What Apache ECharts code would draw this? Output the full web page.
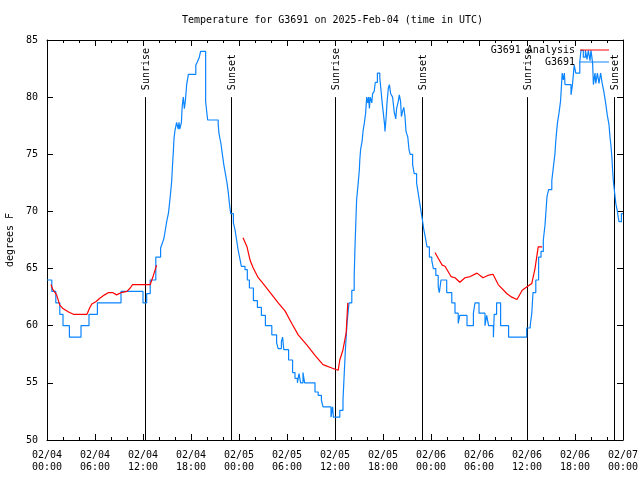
<!DOCTYPE html>
<html><head><meta charset="utf-8">
<script src="https://cdn.jsdelivr.net/npm/echarts@6/dist/echarts.min.js"></script>
<style>html,body{margin:0;padding:0;background:#fff}#c{width:640px;height:480px}</style>
</head><body><div id="c"></div>
<script>
// ---- data (x in hours since 02/04 00:00 UTC, y in degrees F) ----
const chartTitle = 'Temperature for G3691 on 2025-Feb-04 (time in UTC)';
const xTickHours = [0, 6, 12, 18, 24, 30, 36, 42, 48, 54, 60, 66, 72];
const yTicks = [50, 55, 60, 65, 70, 75, 80, 85];

// Observed station values (change points, step)
const blueDay1 = [[0,64],[0.6,63],[1.1,62],[1.6,61],[2.0,60],[2.8,59],[4.25,60],[5.25,61],[6.3,62],[9.25,63],[12.0,62],[12.46,62.8],[12.9,64],[13.6,66],[14.2,66.8],[14.4,67.2],[14.6,67.6],[14.75,68.2],[14.96,69.1],[15.17,69.8],[15.3,70.6],[15.46,71.7],[15.58,72.6],[15.67,73.8],[15.79,75.2],[15.875,76.4],[16.0,77.1],[16.2,77.8],[16.4,77.2],[16.5,77.8],[16.6,77.2],[16.8,77.8],[16.9,79.2],[17.04,80],[17.17,79],[17.3,79.7],[17.46,81.1],[17.67,82],[18.6,82.8],[18.8,83.1],[19.04,83.5],[19.2,84],[19.83,79.6],[20.08,78],[21.4,77.6],[21.5,76.8],[21.75,75.9],[21.9,75.1],[22.1,74.1],[22.3,73.3],[22.5,72.5],[22.67,71.6],[22.8,70.7],[22.96,69.8],[23.3,69],[23.5,68.4],[23.7,67.5],[23.9,66.6],[24.1,65.9],[24.3,65.2],[24.75,64.9],[25.04,64],[25.3,63.3]];
const blueDay2 = [[25.8,62.2],[26.3,61.6],[26.8,60.9],[27.3,60],[28.1,59.2],[28.7,58.5],[28.9,58],[29.3,58.6],[29.45,59],[29.6,57.9],[30.2,57],[30.7,55.9],[31.0,55.4],[31.3,55],[31.5,55.8],[31.7,55],[32.0,55.9],[32.2,55],[33.5,54.2],[33.9,53.9],[34.3,53.5],[34.5,52.9],[35.5,52],[35.7,52.9],[35.8,52],[36.6,52.6],[37.0,53.5],[37.1,55],[37.3,57.9],[37.5,60.2],[37.75,62],[38.1,63.1],[38.4,64.3],[38.5,66.9],[38.7,71],[38.9,72.5],[39.04,73.6],[39.1,74.5],[39.2,75.4],[39.4,76.2],[39.5,77],[39.66,77.7],[39.83,78.6],[39.96,80],[40.1,79.5],[40.2,80],[40.3,79],[40.4,80],[40.6,79.5],[40.7,80.3],[40.9,80.5],[41.04,81.3],[41.3,82.1],[41.6,81.7],[41.75,80.6],[41.9,79.5],[42.04,78.6],[42.2,77.6],[42.25,77],[42.4,78.3],[42.5,79.5],[42.67,80.8],[42.8,81.1],[42.96,80.3],[43.2,80],[43.4,78.7],[43.6,78.1],[43.7,79],[43.9,79.6],[44.04,80.2],[44.2,79.6],[44.3,78.3],[44.46,78.8],[44.6,79.1],[44.75,78.3],[44.875,77],[45.1,76.5],[45.25,75.4],[45.4,75],[45.7,74.1],[45.9,73.3],[46.2,72.5],[46.4,71.6],[46.6,70.7],[46.8,69.8],[46.96,69.1],[47.1,68.4],[47.3,67.7],[47.5,66.9],[47.8,66],[48.1,65.7],[48.3,65],[48.6,64.4],[48.9,63.4],[49.04,62.9],[49.25,64],[49.96,62.9]];
const blueDay3 = [[50.6,62],[51.0,61.1],[51.4,60.2],[51.6,60.9],[52.5,60],[53.3,61.1],[53.5,62],[54.0,61.1],[54.75,60],[54.96,60.9],[55.2,60],[55.8,59],[55.9,61],[56.2,62],[56.7,60],[57.7,59],[59.96,59.8],[60.4,60],[60.6,61.1],[60.75,62.9],[61.1,64],[61.45,66],[61.75,66.5],[62.04,67.5],[62.25,68.8],[62.5,71.3],[62.7,71.9],[63.1,72.7],[63.3,73.9],[63.5,75.1],[63.6,76.2],[63.8,77.7],[64.0,78.6],[64.2,79.7],[64.4,82.1],[64.54,81.5],[64.67,82.1],[64.75,81.1],[65.5,80.2],[65.67,81],[65.9,82.8],[66.1,82.1],[66.6,83.1],[66.75,84.1],[67.04,83.5],[67.3,84.1],[67.5,83.3],[67.67,84.1],[67.875,83.2],[68.0,84.1],[68.2,83],[68.3,81.1],[68.5,82.1],[68.6,81.2],[68.8,82.1],[69.0,81.2],[69.2,82.1],[69.4,81.2],[69.6,80.5],[69.83,79.5],[70.04,78.4],[70.25,77.6],[70.375,76.5],[70.5,75.7],[70.625,74.6],[70.7,73.6],[70.8,72.6],[70.96,71.6],[71.1,70.7],[71.3,70],[71.4,69.5],[71.5,69.1],[71.8,69.8],[72,69.8]];

// Analysis values (three separate runs)
const redRun1 = [[0.5,63.6],[0.7,63.2],[1.2,62.7],[1.6,61.8],[2.0,61.5],[2.7,61.2],[3.3,61.0],[5.0,61.0],[5.3,61.5],[5.6,61.9],[6.1,62.1],[6.6,62.4],[7.2,62.7],[7.7,62.9],[8.2,62.9],[8.7,62.7],[9.3,62.9],[10.0,63.0],[10.4,63.3],[10.7,63.6],[12.9,63.6],[13.3,64.4],[13.7,65.3]];
const redRun2 = [[24.5,67.7],[25.0,66.9],[25.4,65.7],[25.75,65.1],[26.4,64.2],[26.9,63.8],[27.9,62.9],[28.9,62.0],[29.75,61.3],[30.6,60.2],[31.4,59.2],[32.5,58.3],[33.5,57.4],[34.5,56.6],[35.6,56.3],[36.4,56.1],[36.6,57.0],[37.0,57.9],[37.4,59.4],[37.6,62.0]];
const redRun3 = [[48.5,66.4],[48.9,65.9],[49.4,65.3],[49.75,65.2],[50.5,64.3],[51.0,64.2],[51.6,63.8],[52.25,64.2],[52.9,64.3],[53.75,64.6],[54.5,64.2],[55.1,64.4],[55.75,64.5],[56.4,63.6],[57.5,62.8],[58.1,62.5],[58.75,62.3],[59.4,63.1],[60.0,63.4],[60.6,63.7],[61.0,65.0],[61.4,66.9],[61.9,66.9]];

// Sun events
const eventHours = [12.2, 23.0, 36.05, 46.9, 60.05, 70.85];
const eventLabels = ['Sunrise', 'Sunset', 'Sunrise', 'Sunset', 'Sunrise', 'Sunset'];
const eventLineTop = 80;

// ---- chart ----
const FONT = '"DejaVu Sans Mono", "Liberation Mono", monospace';
const blueData = blueDay1.concat(blueDay2, blueDay3);
const redData = redRun1.concat([[13.8, null]], redRun2, [[37.7, null]], redRun3);

function pad(n) { return (n < 10 ? '0' : '') + n; }
function fmtX(v) {
  const day = 4 + Math.floor(v / 24 + 1e-9);
  const hr = Math.round(v - (day - 4) * 24);
  return '02/' + pad(day) + '\n' + pad(hr) + ':00';
}

const tickStyle = { color: '#000', width: 1 };
const baseX = {
  type: 'value', min: xTickHours[0], max: xTickHours[xTickHours.length - 1], interval: 6,
  axisLine: { show: true, onZero: false, lineStyle: tickStyle },
  axisTick: { show: true, inside: true, length: 6, lineStyle: tickStyle },
  minorTick: { show: true, splitNumber: 3, length: 3, lineStyle: tickStyle },
  splitLine: { show: false }, minorSplitLine: { show: false }
};
const baseY = {
  type: 'value', min: yTicks[0], max: yTicks[yTicks.length - 1], interval: 5,
  axisLine: { show: true, onZero: false, lineStyle: tickStyle },
  axisTick: { show: true, inside: true, length: 6, lineStyle: tickStyle },
  splitLine: { show: false }
};

const chart = echarts.init(document.getElementById('c'), null, { renderer: 'canvas' });
const legendCommon = {
  orient: 'vertical', align: 'right', icon: 'rect', itemWidth: 29, itemHeight: 1,
  padding: 0, selectedMode: false,
  textStyle: { fontFamily: FONT, fontSize: 10, color: '#000' }
};
chart.setOption({
  animation: false,
  backgroundColor: '#fff',
  title: {
    text: chartTitle, left: 182, top: 15, padding: 0,
    textStyle: { fontFamily: FONT, fontSize: 10, fontWeight: 'normal', color: '#000' }
  },
  legend: [
    Object.assign({ data: ['G3691 Analysis'], right: 31, top: 45 }, legendCommon),
    Object.assign({ data: ['G3691'], right: 31, top: 57 }, legendCommon)
  ],
  grid: { left: 47, right: 17, top: 40, bottom: 40, containLabel: false, outerBoundsMode: 'none' },
  xAxis: [
    Object.assign({}, baseX, {
      position: 'bottom',
      axisLabel: { formatter: fmtX, fontFamily: FONT, fontSize: 10, color: '#000', lineHeight: 12, margin: 9 }
    }),
    Object.assign({}, baseX, { position: 'top', axisLabel: { show: false } })
  ],
  yAxis: [
    Object.assign({}, baseY, {
      position: 'left',
      name: 'degrees F', nameLocation: 'middle', nameGap: 31, nameRotate: 90,
      nameTextStyle: { fontFamily: FONT, fontSize: 10, color: '#000' },
      axisLabel: { fontFamily: FONT, fontSize: 10, color: '#000', margin: 9 }
    }),
    Object.assign({}, baseY, { position: 'right', axisLabel: { show: false } })
  ],
  series: [
    {
      type: 'custom', xAxisIndex: 0, yAxisIndex: 0, silent: true, z: 1,
      data: eventHours.map(h => [h]),
      renderItem: function (params, api) {
        const h = api.value(0);
        const p0 = api.coord([h, yTicks[0]]);
        const p1 = api.coord([h, eventLineTop]);
        const x = Math.round(p0[0]) + 0.5;
        return {
          type: 'group', children: [
            { type: 'line', shape: { x1: x, y1: p0[1], x2: x, y2: p1[1] }, style: { stroke: '#000', lineWidth: 1 } },
            { type: 'text', x: x + 1, y: p1[1] - 7, rotation: Math.PI / 2,
              style: { text: eventLabels[params.dataIndex], font: '10px ' + FONT, fill: '#000', align: 'left', verticalAlign: 'middle' } }
          ]
        };
      }
    },
    {
      name: 'G3691', type: 'line', data: blueData, step: 'end',
      symbol: 'none', showSymbol: false, z: 3,
      color: '#0a84ff', lineStyle: { color: '#0a84ff', width: 1.2 }
    },
    {
      name: 'G3691 Analysis', type: 'line', data: redData, connectNulls: false,
      symbol: 'none', showSymbol: false, z: 4,
      color: '#ff0000', lineStyle: { color: '#ff0000', width: 1.2 }
    }
  ]
});
</script>
</body></html>
